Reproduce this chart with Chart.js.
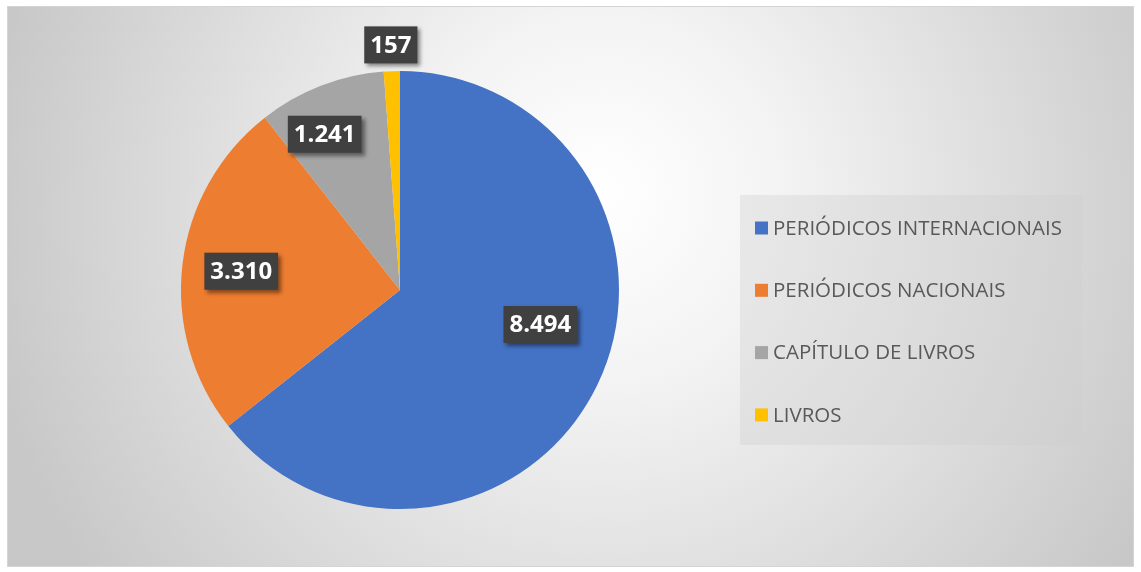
<!DOCTYPE html>
<html>
<head>
<meta charset="utf-8">
<script src="https://cdn.jsdelivr.net/npm/chart.js"></script>
<style>
  html, body { margin: 0; padding: 0; background: #fff; }
  #wrap { position: relative; width: 1141px; height: 572px; }
</style>
</head>
<body>
<div id="wrap"><canvas id="pieChart" width="1141" height="572"></canvas></div>
<script>
// data
var categories = ['PERIÓDICOS INTERNACIONAIS', 'PERIÓDICOS NACIONAIS', 'CAPÍTULO DE LIVROS', 'LIVROS'];
var values = [8494, 3310, 1241, 157];
var colors = ['#4472C4', '#ED7D31', '#A5A5A5', '#FFC000'];

// label placement tweaks (fraction of radius, angle nudge in degrees)
var labelRadius = [0.66, 0.73, 0.79, 1.12];
var labelNudge = [-12, 0, -4.6, 0];

function fmt(v) {
    return v.toLocaleString('pt-BR');
}

// background frame with radial gradient
var bgPlugin = {
    id: 'bg',
    beforeDraw: function (chart) {
        var c = chart.ctx;
        c.save();
        var g = c.createRadialGradient(600, 190, 0, 600, 220, 620);
        g.addColorStop(0, '#ffffff');
        g.addColorStop(0.3, '#f3f3f3');
        g.addColorStop(1, '#c8c8c8');
        c.fillStyle = g;
        c.fillRect(7, 6, 1126, 560);
        c.strokeStyle = '#d4d4d4';
        c.lineWidth = 1;
        c.strokeRect(7.5, 6.5, 1126, 560);
        c.restore();
    }
};

// boxed data labels
var labelPlugin = {
    id: 'boxLabels',
    afterDatasetsDraw: function (chart) {
        var c = chart.ctx;
        var meta = chart.getDatasetMeta(0);
        c.save();
        c.font = 'bold 24px "Open Sans", sans-serif';
        c.textAlign = 'center';
        c.textBaseline = 'middle';
        meta.data.forEach(function (arc, i) {
            var p = arc.getProps(['x', 'y', 'startAngle', 'endAngle', 'outerRadius'], true);
            var mid = (p.startAngle + p.endAngle) / 2 + labelNudge[i] * Math.PI / 180;
            var r = p.outerRadius * labelRadius[i];
            var lx = p.x + Math.cos(mid) * r;
            var ly = p.y + Math.sin(mid) * r;
            var txt = fmt(chart.data.datasets[0].data[i]);
            var w = c.measureText(txt).width + 12;
            var h = 37;
            c.shadowColor = 'rgba(0,0,0,0.45)';
            c.shadowBlur = 4;
            c.shadowOffsetX = 3;
            c.shadowOffsetY = 3;
            c.fillStyle = '#404040';
            c.fillRect(lx - w / 2, ly - h / 2, w, h);
            c.shadowColor = 'transparent';
            c.fillStyle = '#ffffff';
            c.fillText(txt, lx, ly + 1);
        });
        c.restore();
    }
};

// legend on the right
var legendPlugin = {
    id: 'sideLegend',
    afterDraw: function (chart) {
        var c = chart.ctx;
        var x0 = 740, y0 = 195, bw = 342, bh = 250;
        var rowGap = 62.3, firstY = 228;
        c.save();
        c.fillStyle = 'rgba(205,205,205,0.35)';
        c.fillRect(x0, y0, bw, bh);
        c.font = '20.5px "Open Sans", sans-serif';
        c.textBaseline = 'middle';
        c.textAlign = 'left';
        chart.data.labels.forEach(function (lab, i) {
            var y = firstY + i * rowGap;
            c.fillStyle = chart.data.datasets[0].backgroundColor[i];
            c.fillRect(755, y - 6.5, 13, 13);
            c.fillStyle = '#595959';
            c.fillText(lab, 773, y + 1);
        });
        c.restore();
    }
};

var ctx = document.getElementById('pieChart').getContext('2d');
var myChart = new Chart(ctx, {
    type: 'pie',
    data: {
        labels: categories,
        datasets: [
            {
                label: 'Produção',
                data: values,
                backgroundColor: colors,
                borderWidth: 0
            }
        ]
    },
    options: {
        responsive: false,
        animation: false,
        layout: {
            padding: { left: 181, right: 522, top: 71, bottom: 63 }
        },
        plugins: {
            legend: { display: false },
            tooltip: { enabled: false }
        }
    },
    plugins: [bgPlugin, labelPlugin, legendPlugin]
});
</script>
</body>
</html>
